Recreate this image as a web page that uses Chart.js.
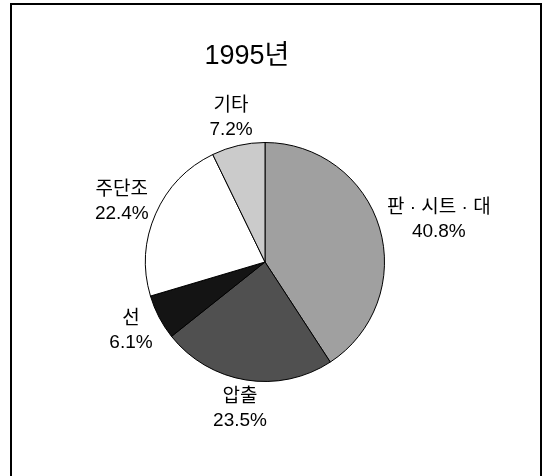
<!DOCTYPE html>
<html>
<head>
<meta charset="utf-8">
<script src="https://cdn.jsdelivr.net/npm/chart.js@4/dist/chart.umd.min.js"></script>
<style>
html,body{margin:0;padding:0;background:#fff;}
#wrap{position:relative;width:542px;height:476px;}
</style>
</head>
<body>
<div id="wrap"><canvas id="c" width="542" height="476"></canvas></div>
<script>
const titleText = '1995년';
const categories = ['판 · 시트 · 대', '압출', '선', '주단조', '기타'];
const shares = [40.8, 23.5, 6.1, 22.4, 7.2];
const sliceColors = ['#a0a0a0', '#505050', '#141414', '#ffffff', '#cbcbcb'];

const FONT = '"Liberation Sans", "Noto Sans CJK KR", sans-serif';

const framePlugin = {
  id: 'frame',
  beforeDraw(chart) {
    const ctx = chart.ctx;
    ctx.save();
    ctx.fillStyle = '#fff';
    ctx.fillRect(0, 0, chart.width, chart.height);
    ctx.strokeStyle = '#000';
    ctx.lineWidth = 2;
    ctx.strokeRect(11, 4, 530, 480);
    ctx.fillStyle = '#000';
    ctx.font = '27px ' + FONT;
    ctx.textAlign = 'center';
    ctx.textBaseline = 'middle';
    ctx.fillText(titleText, 247, 57);
    ctx.restore();
  }
};

const labelPlugin = {
  id: 'sliceLabels',
  afterDatasetsDraw(chart) {
    const ctx = chart.ctx;
    const meta = chart.getDatasetMeta(0);
    ctx.save();
    ctx.fillStyle = '#000';
    ctx.font = '19px ' + FONT;
    ctx.textAlign = 'center';
    ctx.textBaseline = 'middle';
    const gapX = 10, gapY = 6, lineGap = 24, boxH = 46;
    meta.data.forEach((arc, i) => {
      const p = arc.getProps(['x', 'y', 'startAngle', 'endAngle', 'outerRadius'], true);
      const mid = (p.startAngle + p.endAngle) / 2;
      const dx = Math.cos(mid), dy = Math.sin(mid);
      const line1 = categories[i];
      const line2 = shares[i].toFixed(1) + '%';
      const w = Math.max(ctx.measureText(line1).width, ctx.measureText(line2).width);
      const ax = p.x + dx * (p.outerRadius + gapX);
      const ay = p.y + dy * (p.outerRadius + gapY);
      const cx = ax + dx * w / 2;
      const cy = ay + dy * boxH / 2;
      ctx.fillText(line1, cx, cy - lineGap / 2);
      ctx.fillText(line2, cx, cy + lineGap / 2);
    });
    ctx.restore();
  }
};

new Chart(document.getElementById('c'), {
  type: 'pie',
  data: {
    labels: categories,
    datasets: [{
      data: shares,
      backgroundColor: sliceColors,
      borderColor: '#000',
      borderWidth: 1
    }]
  },
  options: {
    responsive: false,
    animation: false,
    rotation: 0,
    layout: { padding: { left: 145, right: 157, top: 142, bottom: 94 } },
    plugins: {
      legend: { display: false },
      tooltip: { enabled: false },
      title: { display: false }
    }
  },
  plugins: [framePlugin, labelPlugin]
});
</script>
</body>
</html>
